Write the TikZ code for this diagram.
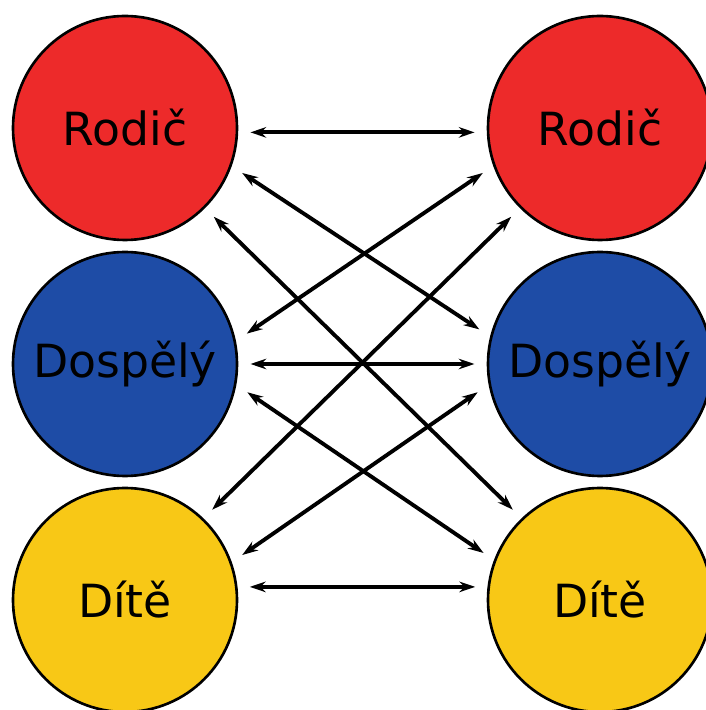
\documentclass[tikz,border=0pt]{standalone}
\usepackage{fontspec}
\setmainfont{DejaVu Sans}
\usetikzlibrary{arrows.meta}
\definecolor{rodred}{RGB}{237,42,42}
\definecolor{dosblue}{RGB}{30,76,166}
\definecolor{dityellow}{RGB}{248,200,22}
\begin{document}
\begin{tikzpicture}[>={Stealth[length=9pt,width=6pt]}, line join=round,
    role/.style={circle, draw=black, line width=1.5pt, minimum size=4.48cm, inner sep=0pt, outer sep=0.27cm,
                 font=\fontsize{26}{30}\selectfont},
    rel/.style={<->, line width=2.2pt}]
                \useasboundingbox (0,0) rectangle (14.12,14.2);
                \clip (0,0) rectangle (14.12,14.2);
                \def\xl{2.5} \def\xr{12}
                \node[role, fill=rodred] (L1) at (\xl,11.64) {Rodič};
                \node[role, fill=dosblue] (L2) at (\xl,6.92) {Dospělý};
                \node[role, fill=dityellow] (L3) at (\xl,2.2) {Dítě};
                \node[role, fill=rodred] (R1) at (\xr,11.64) {Rodič};
                \node[role, fill=dosblue] (R2) at (\xr,6.92) {Dospělý};
                \node[role, fill=dityellow] (R3) at (\xr,2.2) {Dítě};
                % same role
                \draw[rel] (L1.-2) -- (R1.182);
                \draw[rel] (L2.0) -- (R2.180);
                \draw[rel] (L3.6) -- (R3.174);
                % crossing
                \draw[rel] (L1.-21) -- (R2.164);
                \draw[rel] (L1.-45) -- (R3.134);
                \draw[rel] (R1.201) -- (L2.14);
                \draw[rel] (R1.225) -- (L3.46);
                \draw[rel] (L2.-13) -- (R3.158);
                \draw[rel] (R2.193) -- (L3.21);
            \end{tikzpicture}
\end{document}
